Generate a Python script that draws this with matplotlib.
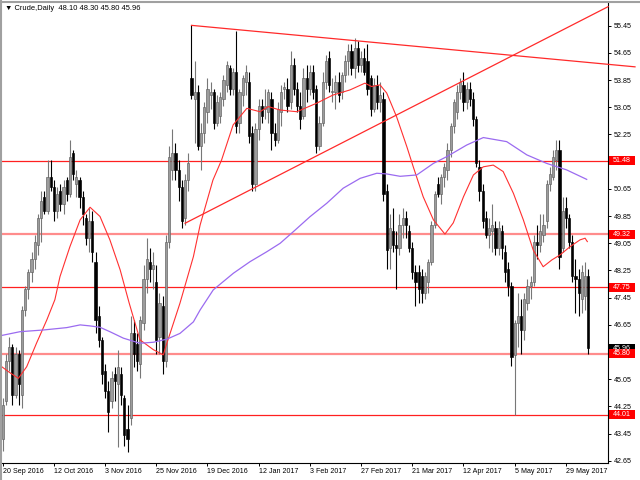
import matplotlib
matplotlib.use("Agg")
import matplotlib.pyplot as plt
import matplotlib.transforms as mtransforms
from matplotlib.patches import Rectangle
from matplotlib.lines import Line2D

plt.rcParams['font.family'] = ['Liberation Sans', 'DejaVu Sans']

# daily OHLC, one entry per bar (20 Sep 2016 .. 7 Jun 2017)
opens = [
    43.3, 44.4, 45.6, 46.0, 44.6, 45.8, 44.6, 47.1, 47.7, 48.2,
    48.6, 49.0, 49.8, 50.4, 50.0, 51.0, 50.7, 50.0, 50.6, 50.2,
    50.9, 50.5, 51.7, 50.8, 50.9, 50.4, 49.8, 49.2, 49.7, 48.5,
    46.9, 46.2, 45.3, 44.7, 44.4, 45.2, 44.9, 45.2, 44.5, 43.6,
    43.9, 46.4, 46.1, 45.5, 46.7, 48.0, 48.5, 48.3, 47.9, 46.3,
    47.2, 45.6, 49.1, 51.2, 51.7, 51.2, 50.7, 49.8, 50.9, 53.9,
    53.3, 53.5, 51.9, 52.3, 52.9, 53.4, 53.5, 52.6, 52.8, 53.3,
    53.7, 54.2, 53.6, 54.1, 52.6, 53.4, 53.8, 53.8, 52.3, 50.8,
    52.4, 53.1, 53.0, 52.9, 53.3, 52.3, 52.1, 52.9, 53.6, 53.6,
    53.2, 54.3, 53.6, 53.1, 52.8, 53.9, 53.6, 54.1, 53.6, 51.9,
    52.6, 53.8, 54.5, 53.5, 53.5, 53.8, 53.5, 54.0, 54.4, 54.7,
    54.2, 54.8, 54.3, 54.5, 54.4, 53.9, 53.0, 53.7, 53.2, 53.3,
    50.6, 48.9, 49.4, 49.0, 48.9, 49.6, 49.8, 49.4, 48.9, 48.2,
    48.2, 48.1, 47.6, 47.9, 48.5, 49.6, 50.8, 50.5, 51.0, 51.2,
    51.8, 52.5, 52.9, 53.5, 53.7, 53.2, 53.6, 53.3, 52.7, 51.3,
    50.6, 49.8, 49.3, 49.4, 49.5, 48.9, 49.4, 48.8, 48.3, 47.8,
    45.75, 46.7, 46.9, 46.5, 47.3, 47.8, 47.9, 49.1, 49.0, 49.3,
    49.7, 50.8, 51.0, 51.5, 51.8, 48.9, 50.1, 49.8, 49.1, 48.1,
    48.0, 47.4, 47.5, 48.10,
]
highs = [
    44.5, 45.8, 46.3, 46.1, 46.0, 45.9, 47.2, 47.8, 48.3, 48.8,
    49.3, 49.9, 50.6, 50.6, 51.5, 51.5, 50.9, 50.7, 50.8, 50.9,
    51.0, 52.1, 51.8, 51.2, 51.0, 50.6, 49.9, 50.1, 50.0, 48.8,
    47.2, 46.3, 45.5, 45.0, 45.3, 45.4, 45.9, 45.4, 44.6, 44.3,
    46.9, 46.8, 46.4, 46.9, 48.4, 49.2, 48.9, 48.8, 48.4, 47.6,
    47.5, 49.3, 51.9, 52.4, 52.0, 51.5, 50.9, 51.1, 51.7, 55.46,
    54.4, 53.7, 52.6, 53.2, 53.9, 53.8, 53.6, 53.4, 53.5, 54.0,
    54.4, 54.3, 54.2, 55.3, 53.6, 54.0, 54.3, 54.1, 52.5, 52.6,
    53.3, 53.3, 53.6, 53.6, 53.5, 52.6, 53.2, 53.7, 53.8, 53.9,
    54.7, 54.5, 53.8, 53.5, 54.2, 54.3, 54.3, 54.3, 53.7, 52.8,
    54.1, 54.6, 54.7, 53.9, 54.0, 54.1, 54.1, 54.6, 54.9, 54.9,
    55.1, 55.0, 54.7, 54.8, 54.9, 54.0, 53.9, 54.0, 53.8, 53.5,
    50.8, 49.9, 50.1, 49.4, 49.9, 50.1, 50.0, 49.6, 49.1, 48.4,
    48.4, 48.3, 48.2, 48.6, 49.7, 50.6, 51.0, 51.1, 51.4, 52.0,
    52.6, 53.3, 53.7, 53.9, 54.1, 53.8, 53.8, 53.5, 52.8, 51.5,
    50.8, 50.0, 49.8, 50.2, 49.7, 49.7, 49.6, 49.0, 48.5, 47.9,
    46.8, 47.6, 47.4, 47.6, 48.0, 48.1, 49.3, 49.6, 49.9, 49.9,
    50.9, 51.3, 51.8, 52.1, 52.1, 50.4, 50.4, 49.9, 49.3, 48.6,
    48.3, 48.4, 48.5, 48.30,
]
lows = [
    42.95, 44.3, 45.3, 44.3, 44.5, 44.3, 44.2, 46.9, 47.4, 47.9,
    48.3, 48.7, 49.1, 49.9, 49.9, 50.6, 49.7, 49.8, 50.0, 49.9,
    50.3, 50.4, 50.9, 50.4, 50.1, 49.6, 49.0, 48.8, 48.5, 46.4,
    46.0, 44.9, 44.5, 43.5, 44.2, 44.4, 43.05, 44.3, 43.1, 42.9,
    43.7, 45.4, 45.3, 45.1, 46.5, 47.6, 47.9, 47.7, 45.8, 45.8,
    45.2, 45.4, 48.9, 50.9, 50.9, 50.3, 49.5, 49.6, 50.6, 53.3,
    52.0, 51.8, 51.2, 52.0, 52.6, 53.0, 52.4, 52.5, 52.6, 53.1,
    53.5, 53.4, 53.4, 52.3, 52.3, 53.1, 53.4, 52.0, 50.6, 50.6,
    52.1, 52.6, 52.7, 52.6, 51.8, 51.9, 52.0, 52.5, 53.3, 52.9,
    53.0, 53.4, 52.9, 52.4, 52.7, 53.2, 53.4, 53.3, 51.7, 51.8,
    52.5, 53.6, 53.5, 53.2, 53.0, 53.2, 53.3, 53.8, 54.0, 54.0,
    53.9, 54.1, 54.1, 54.0, 53.4, 52.8, 52.9, 53.0, 52.9, 50.3,
    48.3, 48.3, 48.8, 47.7, 48.7, 49.2, 49.2, 48.8, 48.0, 47.2,
    47.3, 47.3, 47.4, 47.6, 48.4, 49.5, 50.4, 50.2, 50.7, 50.9,
    51.6, 52.3, 52.7, 53.3, 52.95, 53.0, 53.1, 52.5, 51.3, 50.3,
    49.5, 49.2, 48.9, 48.8, 48.7, 48.7, 48.6, 47.9, 47.5, 45.45,
    44.01, 46.0, 45.8, 46.2, 47.1, 47.4, 47.8, 48.6, 48.8, 49.1,
    49.5, 50.6, 50.9, 51.2, 48.3, 48.8, 49.5, 48.9, 47.9, 47.0,
    46.9, 47.0, 47.1, 45.80,
]
closes = [
    44.3, 45.6, 46.0, 44.6, 45.8, 44.9, 47.1, 47.7, 48.2, 48.6,
    49.1, 49.8, 50.3, 50.0, 51.0, 50.7, 50.0, 50.5, 50.2, 50.7,
    50.5, 51.6, 51.1, 51.0, 50.4, 49.9, 49.2, 49.7, 48.8, 46.8,
    46.2, 45.2, 44.7, 44.1, 45.1, 45.0, 45.4, 44.6, 43.4, 43.3,
    46.4, 45.8, 45.6, 46.8, 48.0, 48.6, 48.3, 48.4, 46.2, 47.3,
    45.6, 49.1, 51.6, 51.7, 51.2, 50.7, 49.7, 50.9, 51.4, 53.4,
    53.5, 51.9, 52.3, 53.05, 53.6, 53.5, 52.6, 53.2, 53.35, 53.85,
    54.3, 53.6, 54.1, 52.5, 53.5, 53.9, 54.1, 52.2, 50.8, 52.4,
    53.1, 52.8, 53.1, 53.5, 52.3, 52.1, 53.0, 53.5, 53.65, 53.1,
    54.3, 53.6, 53.1, 52.7, 53.9, 53.6, 54.1, 53.5, 51.9, 52.6,
    53.8, 54.4, 53.7, 53.5, 53.8, 53.4, 54.0, 54.4, 54.7, 54.2,
    54.8, 54.3, 54.5, 54.1, 53.6, 53.0, 53.7, 53.2, 53.4, 50.5,
    48.85, 49.5, 49.0, 48.9, 49.6, 49.8, 49.6, 48.9, 48.2, 47.9,
    47.7, 47.6, 48.1, 48.5, 49.6, 50.5, 50.5, 51.0, 51.3, 51.8,
    52.5, 53.2, 53.5, 53.8, 53.2, 53.6, 53.3, 52.7, 51.4, 50.6,
    49.7, 49.3, 49.5, 49.6, 48.9, 49.5, 48.9, 48.2, 47.8, 45.7,
    46.7, 46.9, 46.5, 47.4, 47.8, 47.9, 49.1, 49.0, 49.4, 49.6,
    50.8, 51.1, 51.6, 51.8, 48.65, 50.0, 49.8, 49.1, 48.1, 48.0,
    47.6, 48.2, 48.1, 45.96,
]

# moving averages (bar position, price)
ma_fast_bar = [-0.3, 2.3, 4.9, 7.5, 10.6, 13.8, 16.3, 17.9, 21.0, 24.2,
               27.3, 30.4, 33.5, 36.7, 39.5, 42.9, 47.1, 50.2, 51.3, 55.4,
               59.6, 61.7, 65.7, 68.4, 72.0, 76.3, 80.4, 83.0, 86.7, 91.9,
               98.1, 103.2, 108.5, 113.2, 115.3, 117.9, 120.0, 123.1, 126.3, 128.3,
               131.4, 134.6, 138.2, 140.8, 144.0, 147.1, 150.2, 153.3, 156.4, 159.6,
               162.7, 165.8, 168.9, 171.6, 174.2, 177.3, 180.4, 182.0, 182.7]
ma_fast = [45.42, 45.24, 45.08, 45.42, 46.12, 46.80, 47.39, 48.07, 48.95, 49.74,
           50.11, 49.84, 49.15, 48.27, 47.3, 46.21, 45.92, 45.77, 46.11, 47.29,
           48.66, 49.59, 50.91, 51.50, 52.53, 53.02, 52.92, 53.07, 52.97, 52.92,
           53.17, 53.41, 53.56, 53.76, 53.66, 53.71, 53.47, 52.77, 51.89, 51.30,
           50.42, 49.74, 49.32, 49.65, 50.42, 51.06, 51.30, 51.35, 51.16, 50.52,
           49.74, 48.85, 48.36, 48.56, 48.71, 48.95, 49.15, 49.20, 49.10]

ma_slow_bar = [-0.8, 5.4, 12.7, 20.0, 24.2, 27.3, 30.4, 33.5, 37.7, 42.9,
               47.1, 51.3, 55.4, 59.6, 61.7, 65.8, 72.1, 77.3, 82.5, 86.7,
               90.8, 96.0, 101.3, 106.4, 111.7, 116.9, 120.0, 124.2, 129.4, 134.6,
               138.8, 145.0, 150.2, 157.5, 163.8, 170.0, 176.2, 182.5]
ma_slow = [46.33, 46.45, 46.50, 46.57, 46.65, 46.62, 46.58, 46.45, 46.26, 46.11,
           46.14, 46.23, 46.40, 46.74, 47.09, 47.68, 48.17, 48.51, 48.80, 49.05,
           49.39, 49.83, 50.23, 50.67, 50.96, 51.11, 51.09, 51.02, 51.06, 51.40,
           51.60, 51.94, 52.16, 52.04, 51.65, 51.40, 51.21, 50.93]

# horizontal levels and trend lines
levels = [51.48, 49.32, 47.75, 45.80, 44.01]
level_bold = [False, True, False, True, False]
down_bars = [59, 197.6]
down_prices = [55.46, 54.24]
up_bars = [57, 189.2]
up_prices = [49.64, 56.01]

date_bars = [0, 16, 32, 48, 64, 80, 96, 112, 128, 144, 160, 176]
date_labels = ["20 Sep 2016", "12 Oct 2016", "3 Nov 2016", "25 Nov 2016",
               "19 Dec 2016", "12 Jan 2017", "3 Feb 2017", "27 Feb 2017",
               "21 Mar 2017", "12 Apr 2017", "5 May 2017", "29 May 2017"]
price_ticks = [42.65, 43.45, 44.25, 45.05, 45.85, 46.65, 47.45, 48.25, 49.05,
               49.85, 50.65, 51.45, 52.25, 53.05, 53.85, 54.65, 55.45]

FS = 5.1
W, H = 640, 480


def main():
    fig = plt.figure(figsize=(6.4, 4.8), dpi=100)
    ax = fig.add_axes([2 / W, 17 / H, 606 / W, 461 / H])
    ax.set_xlim(-0.22, 189.16)
    ax.set_ylim(42.588, 56.147)

    # candles
    for i, (o, h, l, c) in enumerate(zip(opens, highs, lows, closes)):
        bull = c >= o
        wick = "#777777" if bull else "black"
        ax.vlines(i, l, h, color=wick, linewidth=0.8, zorder=3)
        bottom = min(o, c)
        height = max(abs(c - o), 0.03)
        if bull:
            ax.bar(i, height, bottom=bottom, width=0.7, color="#9c9c9c",
                   edgecolor="#5e5e5e", linewidth=0.45, zorder=4)
        else:
            ax.bar(i, height, bottom=bottom, width=0.7, color="black",
                   edgecolor="black", linewidth=0.45, zorder=4)

    ax.plot(ma_fast_bar, ma_fast, color="#ff3030", linewidth=0.8, zorder=5)
    ax.plot(ma_slow_bar, ma_slow, color="#9b6bf0", linewidth=0.9, zorder=5)

    for lvl, bold in zip(levels, level_bold):
        if bold:
            ax.axhline(lvl, color="#ff8c8c", linewidth=1.6, zorder=2)
        else:
            ax.axhline(lvl, color="#ff2020", linewidth=0.9, zorder=2)

    ax.plot(down_bars, down_prices, color="#ff2a2a", linewidth=0.9,
            clip_on=False, zorder=6)
    ax.plot(up_bars, up_prices, color="#ff2a2a", linewidth=0.9,
            clip_on=False, zorder=6)

    # axes styling; scale labels that sit under a value box stay hidden
    hidden = [round(v, 1) for v in levels + [closes[-1]]]
    ax.yaxis.tick_right()
    ax.set_yticks(price_ticks)
    ax.set_yticklabels(["" if any(abs(p - h) < 0.12 for h in hidden)
                        else f"{p:.2f}" for p in price_ticks])
    ax.set_xticks(date_bars)
    ax.set_xticklabels(date_labels)
    ax.tick_params(axis="both", labelsize=FS, length=2.2, width=0.7,
                   direction="out", colors="black")
    ax.tick_params(axis="y", pad=2)
    ax.tick_params(axis="x", pad=1.5)
    for lab in ax.get_xticklabels():
        lab.set_horizontalalignment("left")
    for side in ("right", "bottom"):
        ax.spines[side].set_color("black")
        ax.spines[side].set_linewidth(0.8)
    for side in ("left", "top"):
        ax.spines[side].set_visible(False)

    # value boxes on the price scale
    trans = mtransforms.blended_transform_factory(ax.transAxes, ax.transData)
    box_h = 9 / 34.03
    x0, bw = 607 / 606, 26 / 606
    boxes = [(closes[-1], "black")] + [(lvl, "#ff0000") for lvl in levels]
    for val, col in boxes:
        ax.add_patch(Rectangle((x0, val - box_h / 2), bw, box_h, transform=trans,
                               facecolor=col, edgecolor="none", clip_on=False,
                               zorder=10))
        ax.text(x0 + bw / 2, val, f"{val:.2f}", transform=trans, color="white",
                fontsize=FS, ha="center", va="center", clip_on=False, zorder=11)

    # window border
    fig.add_artist(Line2D([0, 1], [1 - 1.5 / H] * 2, transform=fig.transFigure,
                          color="#a0a0a0", linewidth=1.5))
    fig.add_artist(Line2D([1.2 / W] * 2, [0, 1], transform=fig.transFigure,
                          color="#a0a0a0", linewidth=1.5))

    header = (f"\u25bc Crude,Daily  {opens[-1]:.2f} {highs[-1]:.2f} "
              f"{lows[-1]:.2f} {closes[-1]:.2f}")
    fig.text(5 / W, 1 - 8.5 / H, header, fontsize=5.4, va="center", ha="left")

    fig.savefig("out.png", dpi=100)
    plt.close(fig)


if __name__ == "__main__":
    main()
